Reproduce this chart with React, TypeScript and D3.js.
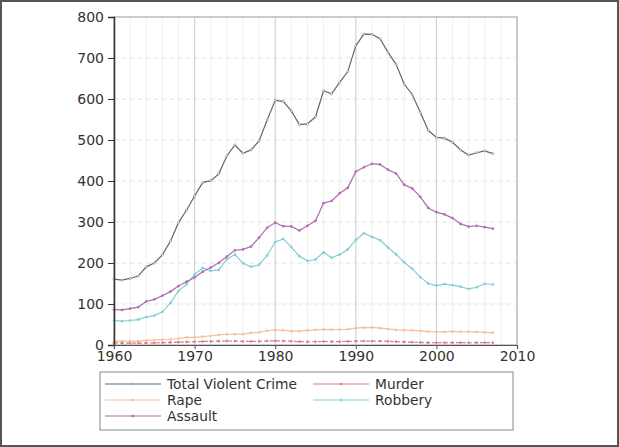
import React, { useEffect, useRef } from 'react';
import * as d3 from 'd3';

// US violent crime rates per 100,000 inhabitants
const years = d3.range(1960, 2008);

const totalViolent = [160.9, 158.1, 162.3, 168.2, 190.6, 200.2, 220.0, 253.2, 298.4, 328.7,
  363.5, 396.0, 401.0, 417.4, 461.1, 487.8, 467.8, 475.9, 497.8, 548.9,
  596.6, 594.3, 571.1, 537.7, 539.2, 556.6, 620.1, 612.5, 640.6, 666.9,
  729.6, 758.2, 757.7, 747.1, 713.6, 684.5, 636.6, 611.0, 567.6, 523.0,
  506.5, 504.5, 494.4, 475.8, 463.2, 469.0, 473.5, 466.9];
const murder = [5.1, 4.8, 4.6, 4.6, 4.9, 5.1, 5.6, 6.2, 6.9, 7.3,
  7.9, 8.6, 9.0, 9.4, 9.8, 9.6, 8.7, 8.8, 9.0, 9.7,
  10.2, 9.8, 9.1, 8.3, 7.9, 8.0, 8.6, 8.3, 8.4, 8.7,
  9.4, 9.8, 9.3, 9.5, 9.0, 8.2, 7.4, 6.8, 6.3, 5.7,
  5.5, 5.6, 5.6, 5.7, 5.5, 5.6, 5.8, 5.7];
const rape = [9.6, 9.4, 9.4, 9.4, 11.2, 12.1, 13.2, 14.0, 15.9, 18.5,
  18.7, 20.5, 22.5, 24.5, 26.2, 26.3, 26.6, 29.4, 31.0, 34.7,
  36.8, 36.0, 34.0, 33.7, 35.7, 37.1, 38.1, 37.6, 37.8, 38.3,
  41.1, 42.3, 42.8, 41.1, 39.3, 37.1, 36.3, 35.9, 34.5, 32.8,
  32.0, 31.8, 33.1, 32.3, 32.4, 31.8, 31.0, 30.0];
const robbery = [60.1, 58.3, 59.7, 61.8, 68.2, 71.7, 80.8, 102.8, 131.8, 148.4,
  172.1, 188.0, 180.7, 183.1, 209.3, 220.8, 199.3, 190.7, 195.8, 218.4,
  251.1, 258.7, 238.9, 216.5, 205.4, 208.5, 226.0, 212.7, 220.9, 233.0,
  256.3, 272.7, 263.7, 256.0, 237.8, 220.9, 201.9, 186.2, 165.5, 150.1,
  145.0, 148.5, 146.1, 142.5, 136.7, 140.8, 149.4, 147.6];
const assault = [86.1, 85.7, 88.6, 92.4, 106.2, 111.3, 120.3, 130.2, 143.8, 154.5,
  164.8, 178.8, 188.8, 200.5, 215.8, 231.1, 233.2, 240.0, 262.1, 286.0,
  298.5, 289.7, 289.1, 279.2, 290.6, 302.9, 346.1, 351.3, 370.2, 383.4,
  422.9, 433.4, 441.9, 440.5, 427.6, 418.3, 391.0, 382.1, 361.4, 334.3,
  324.0, 318.6, 309.5, 295.4, 288.6, 290.8, 287.5, 283.8];

const seriesNames = ['Total Violent Crime', 'Murder', 'Rape', 'Robbery', 'Assault'];
const xTicks = [1960, 1970, 1980, 1990, 2000, 2010];
const yTicks = [0, 100, 200, 300, 400, 500, 600, 700, 800];

const W = 619;
const H = 447;

export default function App() {
  const ref = useRef<SVGSVGElement>(null);

  useEffect(() => {
    const svg = d3.select(ref.current);
    svg.selectAll('*').remove();
    const font = 'DejaVu Sans, sans-serif';

    const left = 114, right = 517, top = 17, bottom = 345;
    const x = d3.scaleLinear().domain([1960, 2010]).range([left, right]);
    const y = d3.scaleLinear().domain([0, 800]).range([bottom, top]);

    svg.append('rect').attr('width', W).attr('height', H).attr('fill', '#fff');

    // minor vertical grid every 2 years
    const grid = svg.append('g');
    grid.selectAll('line.minor')
      .data(d3.range(1962, 2010, 2).filter(v => v % 10 !== 0))
      .join('line')
      .attr('x1', d => x(d)).attr('x2', d => x(d))
      .attr('y1', top).attr('y2', bottom)
      .attr('stroke', '#f0f0f0').attr('stroke-width', 1);
    grid.selectAll('line.hy')
      .data(yTicks.slice(1, -1))
      .join('line')
      .attr('x1', left).attr('x2', right)
      .attr('y1', d => y(d)).attr('y2', d => y(d))
      .attr('stroke', '#e4e4e4').attr('stroke-dasharray', '5,3');
    grid.selectAll('line.vx')
      .data(xTicks.slice(1, -1))
      .join('line')
      .attr('x1', d => x(d)).attr('x2', d => x(d))
      .attr('y1', top).attr('y2', bottom)
      .attr('stroke', '#d2d2d2').attr('stroke-width', 1.2);

    // plot frame
    svg.append('rect')
      .attr('x', left).attr('y', top)
      .attr('width', right - left).attr('height', bottom - top)
      .attr('fill', 'none').attr('stroke', '#bbbbbb').attr('stroke-width', 1.5);

    const seriesData = [totalViolent, murder, rape, robbery, assault];
    const colors = ['#666666', '#d97f8a', '#f3c19c', '#86cdd2', '#b06cb0'];
    const dashes = [null, '4,2', null, null, null];

    const line = d3.line<number>()
      .x((_, i) => x(years[i]))
      .y(d => y(d));

    const order = [2, 1, 3, 4, 0];
    order.forEach(k => {
      const g = svg.append('g');
      g.append('path')
        .datum(seriesData[k])
        .attr('d', line)
        .attr('fill', 'none')
        .attr('stroke', colors[k])
        .attr('stroke-width', 1.2)
        .attr('stroke-dasharray', dashes[k]);
      g.selectAll('circle')
        .data(seriesData[k])
        .join('circle')
        .attr('cx', (_, i) => x(years[i]))
        .attr('cy', d => y(d))
        .attr('r', 1.1)
        .attr('fill', k === 0 ? '#fff' : colors[k])
        .attr('stroke', colors[k])
        .attr('stroke-width', 0.5);
    });

    // axes
    const yAxis = svg.append('g')
      .attr('transform', `translate(${left},0)`)
      .call(d3.axisLeft(y).tickValues(yTicks).tickSize(6).tickPadding(4));
    yAxis.select('.domain').attr('stroke', '#333').attr('stroke-width', 1.5);
    yAxis.selectAll('.tick line').attr('stroke', '#333');
    yAxis.selectAll('text').attr('font-family', font).attr('font-size', 14).attr('fill', '#333');

    const xAxis = svg.append('g')
      .attr('transform', `translate(0,${bottom})`)
      .call(d3.axisBottom(x).tickValues(xTicks).tickFormat(d3.format('d')).tickSize(4).tickPadding(2));
    xAxis.select('.domain').attr('stroke', '#555').attr('stroke-width', 1.2);
    xAxis.selectAll('.tick line').attr('stroke', '#555');
    xAxis.selectAll('text').attr('font-family', font).attr('font-size', 14).attr('fill', '#333');

    // legend
    const lg = svg.append('g');
    lg.append('rect')
      .attr('x', 100).attr('y', 372).attr('width', 413).attr('height', 58)
      .attr('fill', '#fff').attr('stroke', '#999').attr('stroke-width', 1.2);
    const pos = [
      [105, 384], [313, 384], [105, 400], [313, 400], [105, 416]
    ];
    seriesNames.forEach((name, k) => {
      const [lx, ly] = pos[k];
      lg.append('line')
        .attr('x1', lx).attr('x2', lx + 56)
        .attr('y1', ly).attr('y2', ly)
        .attr('stroke', colors[k]).attr('stroke-width', 1.2);
      lg.append('circle')
        .attr('cx', lx + 28).attr('cy', ly).attr('r', 1.1)
        .attr('fill', k === 0 ? '#fff' : colors[k]).attr('stroke', colors[k]).attr('stroke-width', 0.5);
      lg.append('text')
        .attr('x', lx + 62).attr('y', ly + 5)
        .attr('font-family', font).attr('font-size', 13.8)
        .attr('fill', '#333')
        .text(name);
    });

    // outer frame
    svg.append('rect')
      .attr('x', 1).attr('y', 1).attr('width', W - 2).attr('height', H - 2)
      .attr('fill', 'none').attr('stroke', '#555').attr('stroke-width', 2);
  }, []);

  return (
    <svg ref={ref} width={W} height={H}
      style={{ position: 'absolute', left: 0, top: 0, display: 'block' }} />
  );
}
